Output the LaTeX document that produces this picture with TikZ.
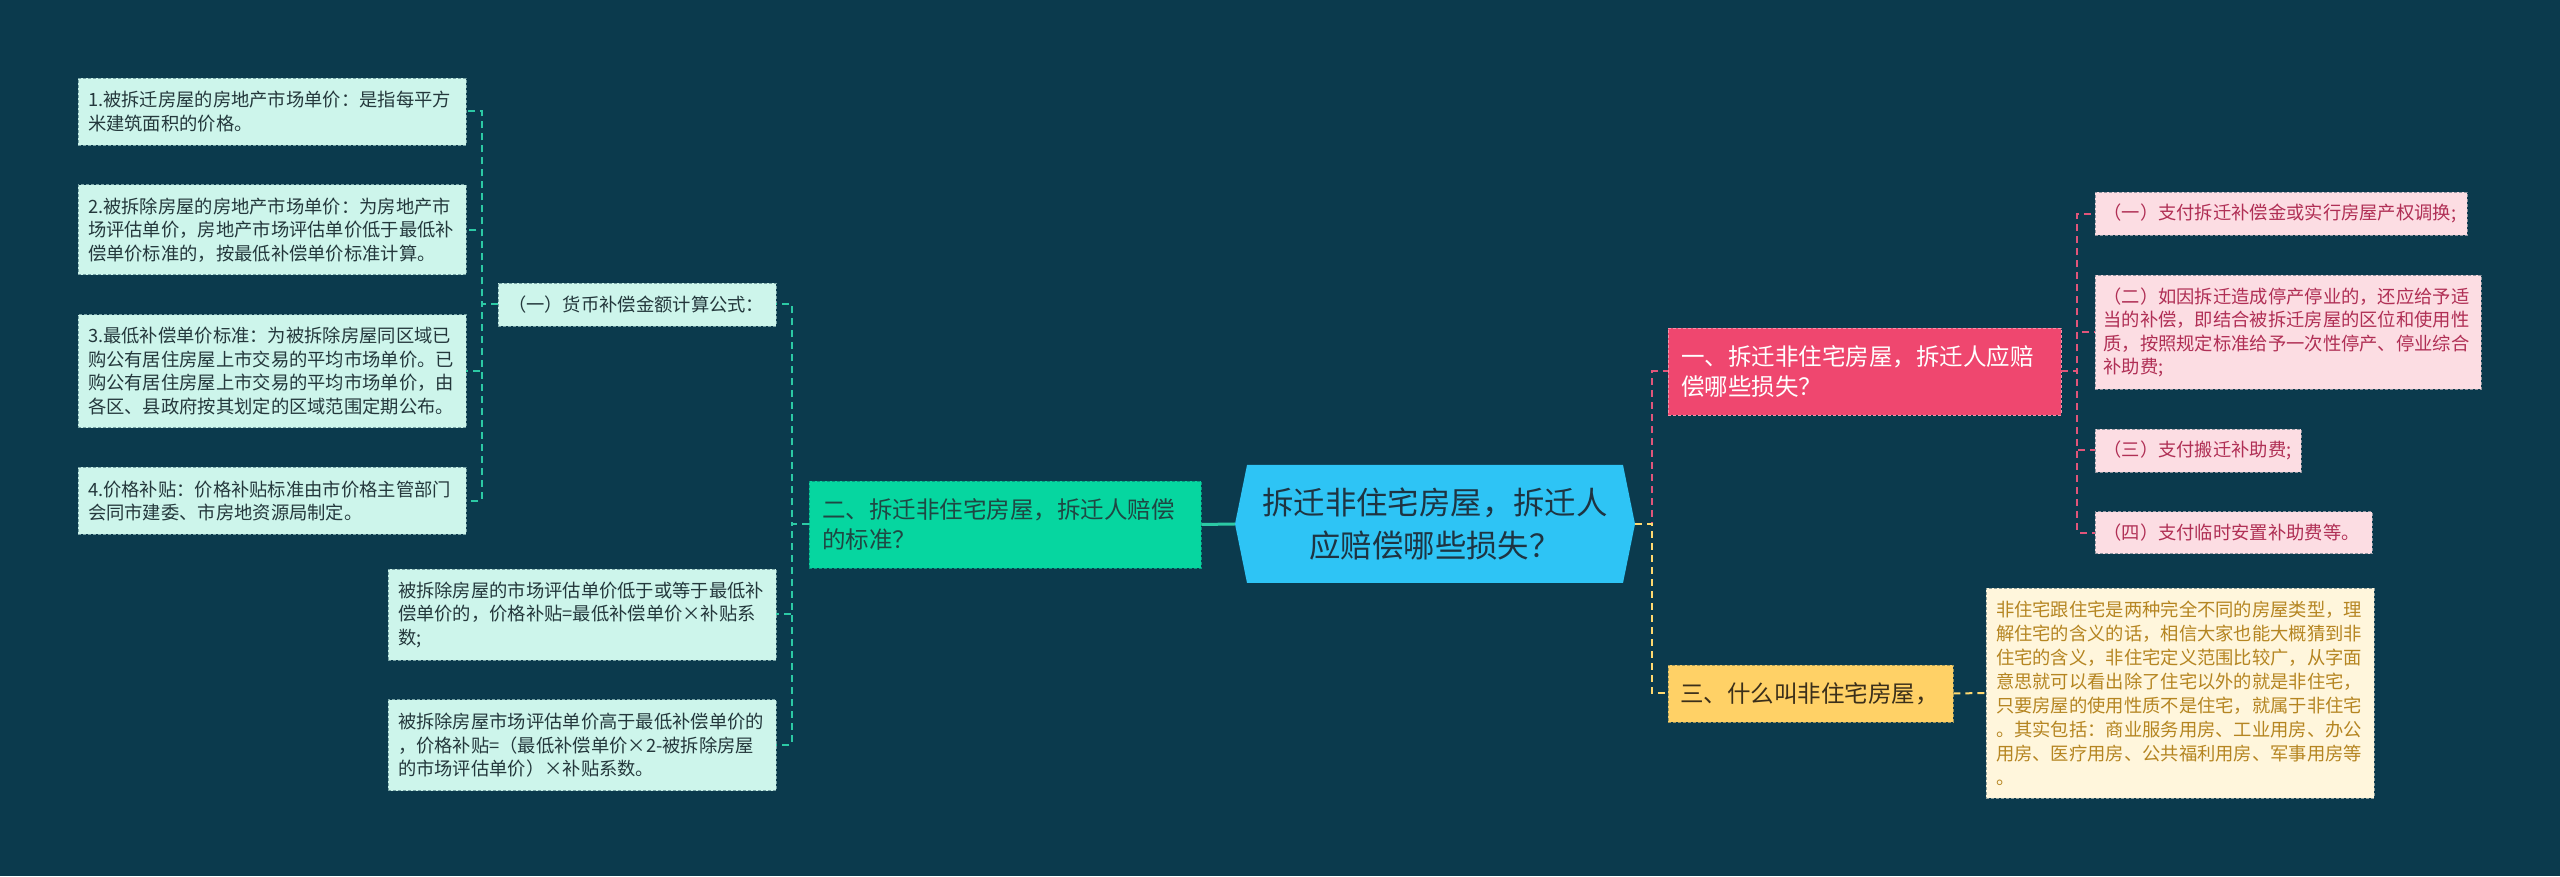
\documentclass[tikz,border=0pt]{standalone}
\usepackage{fontspec}
\setmainfont{Noto Sans CJK SC}
\usetikzlibrary{positioning}
\definecolor{bgc}{HTML}{0B3A4D}
\definecolor{mint}{HTML}{CDF5EB}
\definecolor{minttext}{HTML}{24383C}
\definecolor{tealc}{HTML}{06D6A0}
\definecolor{tealtext}{HTML}{1F4743}
\definecolor{teall}{HTML}{2CC9A5}
\definecolor{skyc}{HTML}{2EC4F5}
\definecolor{roottext}{HTML}{1E3442}
\definecolor{pinkc}{HTML}{EF476F}
\definecolor{pinkl}{HTML}{E0557A}
\definecolor{pinkleaf}{HTML}{FCDDE3}
\definecolor{pinktext}{HTML}{B02F55}
\definecolor{goldc}{HTML}{FFD166}
\definecolor{goldtext}{HTML}{3B2F1A}
\definecolor{goldl}{HTML}{FFD970}
\definecolor{cream}{HTML}{FFF6DC}
\definecolor{creamtext}{HTML}{B58521}

\begin{document}
\begin{tikzpicture}[
  x=1pt, y=1pt,
  node distance=39pt,
  box/.style={
    rectangle, dashed, dash pattern=on 3pt off 2pt, line width=0.8pt,
    align=left, inner ysep=0pt
  },
  leaf/.style={
    box, fill=mint, draw=mint!55!bgc, text=minttext,
    font=\fontsize{18.3}{23.5}\selectfont, inner xsep=10pt, text width=368pt
  },
  pleaf/.style={
    box, fill=pinkleaf, draw=pinkleaf!55!bgc, text=pinktext,
    font=\fontsize{18.3}{23.5}\selectfont, inner xsep=8pt
  },
  gleaf/.style={
    box, fill=cream, draw=cream!55!bgc, text=creamtext,
    font=\fontsize{18.3}{24}\selectfont, inner xsep=10pt
  },
  mainbox/.style={box, font=\fontsize{23.5}{30}\selectfont, inner xsep=13pt},
  rootbox/.style={
    rectangle, minimum width=400pt, minimum height=118pt, inner sep=0pt,
    align=center, text=roottext, font=\fontsize{31.4}{43}\selectfont
  },
  tline/.style={draw=teall, line width=2pt, dash pattern=on 7pt off 5pt},
  pline/.style={draw=pinkl, line width=2pt, dash pattern=on 7pt off 5pt},
  gline/.style={draw=goldl, line width=2pt, dash pattern=on 7pt off 5pt}
]

\fill[bgc] (0,0) rectangle (2560,876);

\fill[skyc] (1235,352) -- (1247,411) -- (1623,411) -- (1635,352) -- (1623,293) -- (1247,293) -- cycle;
\node[rootbox] (root) at (1435,352) {拆迁非住宅房屋，拆迁人\\应赔偿哪些损失？};

\node[mainbox, fill=tealc, draw=tealc!60!bgc, text=tealtext, text width=366pt, minimum height=87pt] (std) at (1005,351.5) {二、拆迁非住宅房屋，拆迁人赔偿\\的标准？};
\draw[teall, line width=3pt] (root.west) -- (std.east);

\node[leaf, text width=258pt, minimum height=43pt] (money) at (637,571.5) {（一）货币补偿金额计算公式：};
\draw[tline] (std.west) -- ++(-17,0) |- (money.east);

\node[leaf, minimum height=67pt] (mon1) at (272,764.5) {1.被拆迁房屋的房地产市场单价：是指每平方\\米建筑面积的价格。};
\node[leaf, minimum height=90pt, below=of mon1] (mon2) {2.被拆除房屋的房地产市场单价：为房地产市\\场评估单价，房地产市场评估单价低于最低补\\偿单价标准的，按最低补偿单价标准计算。};
\node[leaf, minimum height=113pt, below=of mon2] (mon3) {3.最低补偿单价标准：为被拆除房屋同区域已\\购公有居住房屋上市交易的平均市场单价。已\\购公有居住房屋上市交易的平均市场单价，由\\各区、县政府按其划定的区域范围定期公布。};
\node[leaf, minimum height=67pt, below=of mon3] (mon4) {4.价格补贴：价格补贴标准由市价格主管部门\\会同市建委、市房地资源局制定。};
\draw[tline] (money.west) -- ++(-16,0) |- (mon1.east);
\draw[tline] (money.west) -- ++(-16,0) |- (mon2.east);
\draw[tline] (money.west) -- ++(-16,0) |- (mon3.east);
\draw[tline] (money.west) -- ++(-16,0) |- (mon4.east);

\node[leaf, minimum height=91pt] (sub1) at (582,261.5) {被拆除房屋的市场评估单价低于或等于最低补\\偿单价的，价格补贴=最低补偿单价×补贴系\\数;};
\node[leaf, minimum height=91pt, below=of sub1] (sub2) {被拆除房屋市场评估单价高于最低补偿单价的\\，价格补贴=（最低补偿单价×2-被拆除房屋\\的市场评估单价）×补贴系数。};
\draw[tline] (std.west) -- ++(-17,0) |- (sub1.east);
\draw[tline] (std.west) -- ++(-17,0) |- (sub2.east);

\node[mainbox, fill=pinkc, draw=pinkc!60!white, text=white, text width=367pt, minimum height=87pt] (loss) at (1864.5,504.5) {一、拆迁非住宅房屋，拆迁人应赔\\偿哪些损失？};
\draw[pline] (root.east) -- ++(17,0) |- (loss.west);

\node[pleaf, text width=356pt, minimum height=43pt, anchor=north west] (pay1) at (2095,684) {（一）支付拆迁补偿金或实行房屋产权调换;};
\node[pleaf, text width=370pt, minimum height=114pt, below=of pay1.south west, anchor=north west] (pay2) {（二）如因拆迁造成停产停业的，还应给予适\\当的补偿，即结合被拆迁房屋的区位和使用性\\质，按照规定标准给予一次性停产、停业综合\\补助费;};
\node[pleaf, text width=190pt, minimum height=43pt, below=of pay2.south west, anchor=north west] (pay3) {（三）支付搬迁补助费;};
\node[pleaf, text width=261pt, minimum height=42pt, below=of pay3.south west, anchor=north west] (pay4) {（四）支付临时安置补助费等。};
\draw[pline] (loss.east) -- ++(16,0) |- (pay1.west);
\draw[pline] (loss.east) -- ++(16,0) |- (pay2.west);
\draw[pline] (loss.east) -- ++(16,0) |- (pay3.west);
\draw[pline] (loss.east) -- ++(16,0) |- (pay4.west);

\node[mainbox, fill=goldc, draw=goldc!60!bgc, text=goldtext, inner xsep=12pt, text width=261pt, minimum height=57pt] (what) at (1810.5,182.5) {三、什么叫非住宅房屋，};
\draw[gline] (root.east) -- ++(17,0) |- (what.west);

\node[gleaf, text width=368pt, minimum height=210pt] (whatinfo) at (2180,183) {非住宅跟住宅是两种完全不同的房屋类型，理\\解住宅的含义的话，相信大家也能大概猜到非\\住宅的含义，非住宅定义范围比较广，从字面\\意思就可以看出除了住宅以外的就是非住宅，\\只要房屋的使用性质不是住宅，就属于非住宅\\。其实包括：商业服务用房、工业用房、办公\\用房、医疗用房、公共福利用房、军事用房等\\。};
\draw[gline] (what.east) -- (whatinfo.west);

\end{tikzpicture}
\end{document}
